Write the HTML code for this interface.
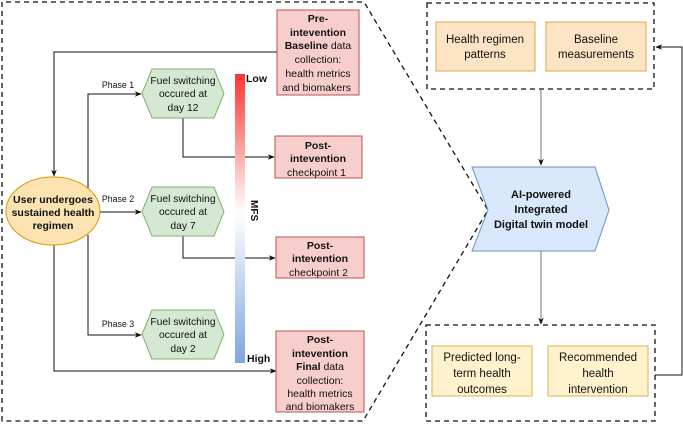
<!DOCTYPE html>
<html><head><meta charset="utf-8"><style>
html,body{margin:0;padding:0;background:#fff}
svg{display:block}
text{font-family:"Liberation Sans",sans-serif;fill:#111}
</style></head><body>
<svg width="683" height="424" viewBox="0 0 683 424" xmlns="http://www.w3.org/2000/svg">
<defs>
<marker id="a" viewBox="0 0 10 10" refX="9" refY="5" markerWidth="7" markerHeight="7" orient="auto"><path d="M0,1 L10,5 L0,9 L3,5 z" fill="#111"/></marker>
<linearGradient id="g" x1="0" y1="0" x2="0" y2="1"><stop offset="0" stop-color="#ff3333"/><stop offset="0.48" stop-color="#ffffff"/><stop offset="1" stop-color="#7ea6e0"/></linearGradient>
</defs>
<g fill="none" stroke="#111" stroke-width="1.3" stroke-dasharray="5,4">
<path d="M2,421 L2,2 L364,2 L488,210 L363,421 Z"/>
<rect x="427" y="3" width="227" height="86"/>
<rect x="426" y="325" width="229" height="96"/>
</g>
<rect x="436" y="22" width="99" height="49" fill="#fce4c4" stroke="#d9a84e"/>
<rect x="546" y="22" width="100" height="49" fill="#fce4c4" stroke="#d9a84e"/>
<text font-size="11.5" text-anchor="middle"><tspan x="485" y="43">Health regimen</tspan><tspan x="485" y="58">patterns</tspan><tspan x="596" y="43">Baseline</tspan><tspan x="596" y="58">measurements</tspan></text>
<rect x="432" y="346" width="100" height="50" fill="#fff2cc" stroke="#d6b656"/>
<rect x="548" y="346" width="100" height="50" fill="#fff2cc" stroke="#d6b656"/>
<text font-size="11.5" text-anchor="middle"><tspan x="482" y="361">Predicted long-</tspan><tspan x="482" y="377">term health</tspan><tspan x="482" y="393">outcomes</tspan><tspan x="598" y="361">Recommended</tspan><tspan x="598" y="377">health</tspan><tspan x="598" y="393">intervention</tspan></text>
<path d="M472,167 L595,167 L609,210 L595,251 L472,251 L488,210 Z" fill="#dae8fc" stroke="#6c8ebf"/>
<text font-size="11" font-weight="bold" text-anchor="middle"><tspan x="541" y="198">AI-powered</tspan><tspan x="541" y="213">Integrated</tspan><tspan x="541" y="228">Digital twin model</tspan></text>
<g fill="none" stroke="#111" stroke-width="1">
<path d="M541,89 L541,165" stroke="#777" marker-end="url(#a)"/>
<path d="M541,251 L541,324" stroke="#777" marker-end="url(#a)"/>
<path d="M655,375 L682,375 L682,47 L656,47" marker-end="url(#a)"/>
<path d="M277,52 L54,52 L54,176" marker-end="url(#a)"/>
<path d="M88,188 L88,94 L141,94" marker-end="url(#a)"/>
<path d="M100,212 L141,212" marker-end="url(#a)"/>
<path d="M88,235 L88,335 L141,335" marker-end="url(#a)"/>
<path d="M54,245 L54,371 L276,371" marker-end="url(#a)"/>
<path d="M183,118 L183,157 L274,157" marker-end="url(#a)"/>
<path d="M183,236 L183,258 L275,258" marker-end="url(#a)"/>
</g>
<ellipse cx="53" cy="211" rx="47" ry="34" fill="#fde3b2" stroke="#d79b00"/>
<text font-size="10.5" font-weight="bold" text-anchor="middle"><tspan x="53" y="203">User undergoes</tspan><tspan x="53" y="216">sustained health</tspan><tspan x="53" y="229">regimen</tspan></text>
<g fill="#d5e8d4" stroke="#82b366">
<path d="M142,93.5 L152,69 L214,69 L224,93.5 L214,118 L152,118 Z"/>
<path d="M142,211.5 L152,187 L214,187 L224,211.5 L214,236 L152,236 Z"/>
<path d="M142,334.5 L152,310 L214,310 L224,334.5 L214,359 L152,359 Z"/>
</g>
<text font-size="10.3" text-anchor="middle"><tspan x="183" y="84">Fuel switching</tspan><tspan x="183" y="97">occured at</tspan><tspan x="183" y="111">day 12</tspan><tspan x="183" y="202">Fuel switching</tspan><tspan x="183" y="215">occured at</tspan><tspan x="183" y="229">day 7</tspan><tspan x="183" y="325">Fuel switching</tspan><tspan x="183" y="338">occured at</tspan><tspan x="183" y="352">day 2</tspan></text>
<text font-size="8.8" text-anchor="middle"><tspan x="118" y="88">Phase 1</tspan><tspan x="118" y="202">Phase 2</tspan><tspan x="118" y="327">Phase 3</tspan></text>
<rect x="235" y="74" width="10" height="289" fill="url(#g)"/>
<text font-size="10.5" font-weight="bold"><tspan x="246" y="82">Low</tspan><tspan x="247" y="362">High</tspan></text>
<text font-size="10" font-weight="bold" transform="translate(251,200) rotate(90)">MFS</text>
<g fill="#f8cecc" stroke="#b85450">
<rect x="277" y="10" width="82" height="85"/>
<rect x="275" y="136" width="87" height="42"/>
<rect x="276" y="237" width="88" height="41"/>
<rect x="276" y="331" width="88" height="81"/>
</g>
<text font-size="10.5" text-anchor="middle">
<tspan x="318" y="22" font-weight="bold">Pre-</tspan><tspan x="318" y="36" font-weight="bold">intevention</tspan><tspan x="318" y="49"><tspan font-weight="bold">Baseline</tspan> data</tspan><tspan x="318" y="63">collection:</tspan><tspan x="318" y="77">health metrics</tspan><tspan x="318" y="91">and biomakers</tspan>
<tspan x="318" y="149" font-weight="bold">Post-</tspan><tspan x="318" y="162" font-weight="bold">intevention</tspan><tspan x="318" y="176">checkpoint 1</tspan>
<tspan x="320" y="249" font-weight="bold">Post-</tspan><tspan x="320" y="262" font-weight="bold">intevention</tspan><tspan x="320" y="276">checkpoint 2</tspan>
<tspan x="320" y="343" font-weight="bold">Post-</tspan><tspan x="320" y="357" font-weight="bold">intevention</tspan><tspan x="320" y="370"><tspan font-weight="bold">Final</tspan> data</tspan><tspan x="320" y="384">collection:</tspan><tspan x="320" y="397">health metrics</tspan><tspan x="320" y="410">and biomakers</tspan>
</text>
</svg>
</body></html>
